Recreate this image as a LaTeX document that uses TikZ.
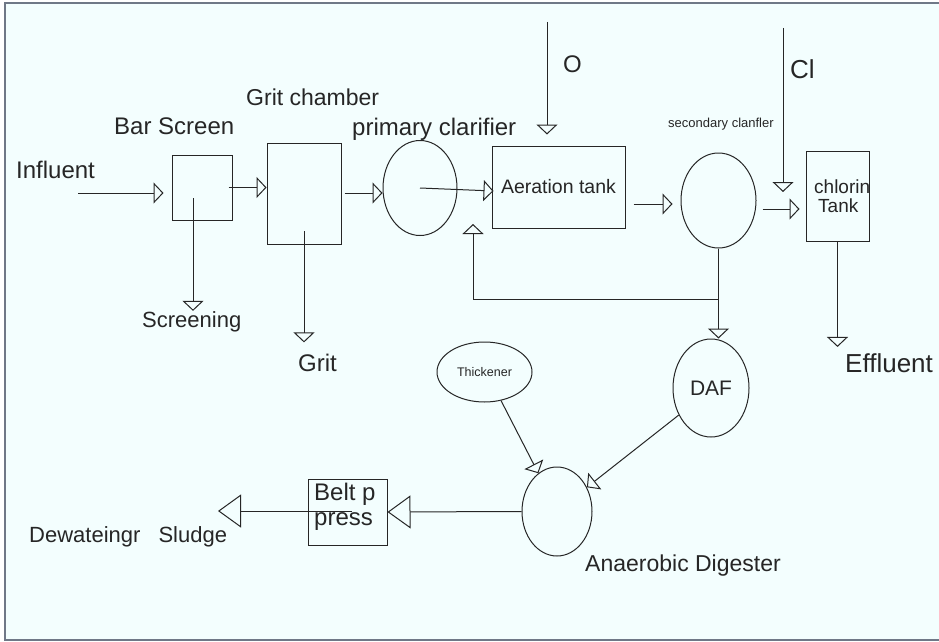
\documentclass[tikz,border=0pt]{standalone}
\usepackage{fontspec}
\setmainfont{Liberation Sans}
\usetikzlibrary{arrows.meta,positioning,shapes.geometric,calc}
\definecolor{plantline}{HTML}{262626}
\definecolor{plantbg}{HTML}{F3FEFE}
\definecolor{plantframe}{HTML}{6F7887}
\newcommand{\plantfont}[1]{\fontsize{#1}{#1}\selectfont}

\begin{document}
\begin{tikzpicture}[x=1pt, y=-1pt,
  unit/.style={draw=plantline, line width=1pt, inner sep=0pt, text=plantline},
  tank/.style={unit, rectangle},
  basin/.style={unit, ellipse},
  flow/.style={draw=plantline, line width=1pt, -{Triangle[open, length=10pt, width=21pt]}},
  bigflow/.style={draw=plantline, line width=1pt, -{Triangle[open, length=23pt, width=33pt]}},
  lbl/.style={anchor=base west, inner sep=0pt, text=plantline, font=\plantfont{24}}]
  \useasboundingbox (0,0) rectangle (939,642);

  % Sheet and frame
  \fill[white] (0,0) rectangle (939,642);
  \fill[plantbg] (5,3) rectangle (939,640);
  \draw[plantframe, line width=2pt] (939,3) -- (5,3) -- (5,640) -- (939,640);

  % Units
  \node[tank, minimum width=60pt, minimum height=65pt] (bar) at (202,187.5) {};
  \node[tank, minimum width=74pt, minimum height=101pt] (grit) at (304,193.5) {};
  \node[basin, minimum width=74pt, minimum height=95pt] (prim) at (420,188) {};
  \node[tank, minimum width=133pt, minimum height=82pt, font=\plantfont{19.5}] (aer) at (558.5,187) {Aeration tank};
  \node[basin, minimum width=75pt, minimum height=95pt] (sec) at (718.5,200.5) {};
  \node[tank, minimum width=63pt, minimum height=90pt] (chl) at (837.5,196) {};
  \node[basin, minimum width=76pt, minimum height=98pt, font=\plantfont{21}] (daf) at (711,388) {DAF};
  \node[basin, minimum width=95pt, minimum height=60pt, font=\plantfont{12.5}] (thk) at (484.5,372) {Thickener};
  \node[basin, minimum width=70pt, minimum height=89pt] (dig) at (557,511.5) {};
  \node[tank, minimum width=79pt, minimum height=66pt] (belt) at (347.5,512) {};

  % Labels
  \node[lbl] (influent) at (16,178) {Influent};
  \node[lbl] (barlbl) at (114,134) {Bar Screen};
  \node[lbl, font=\plantfont{23}] (gritlbl) at (246,105) {Grit chamber};
  \node[lbl] (primlbl) at (352,135) {primary clarifier};
  \node[lbl] (olbl) at (563,72) {O};
  \node[lbl, font=\plantfont{26}] (cllbl) at (790,78) {Cl};
  \node[lbl, font=\plantfont{13}] (seclbl) at (668,127) {secondary clanfler};
  \node[lbl, font=\plantfont{19}] (chlorin) at (814,193) {chlorin};
  \node[lbl, font=\plantfont{19}] (chltank) at (818,212) {Tank};
  \node[lbl, font=\plantfont{22}] (scr) at (142,327) {Screening};
  \node[lbl] (gritout) at (298,371) {Grit};
  \node[lbl, font=\plantfont{26}] (eff) at (845,372) {Effluent};
  \node[lbl, font=\plantfont{23}] (diglbl) at (585,571) {Anaerobic Digester};
  \node[lbl, font=\plantfont{22}] (dwlbl) at (29,542) {Dewateingr\hspace{12pt} Sludge};
  \node[lbl] (beltp) at (314,500) {Belt p};
  \node[lbl] (beltpress) at (314,525) {press};

  % Liquid line
  \coordinate (inS) at (78,193);
  \draw[flow, shorten >=8pt] (inS) -- (inS -| bar.west);
  \draw[flow] ($(bar.east)+(-4,0)$) -- (bar.east -| grit.west);
  \coordinate (scrS) at (193,198);
  \draw[flow] (scrS) -- (scrS |- scr.north);
  \draw[flow, shorten >=11pt] ($(grit.center)+(0,37.5)$) -- (grit.center |- gritout.north);
  \coordinate (gritR) at ($(grit.east)+(3,-0.5)$);
  \draw[flow] (gritR) -- (gritR -| prim.west);
  \draw[flow] (prim.center) -- ($(aer.west)+(2,4)$);
  \coordinate (oS) at (547,22);
  \draw[flow, shorten >=11pt] (oS) -- (oS |- aer.north);
  \draw[flow] ($(aer.east)+(8,17)$) -- ($(sec.west)+(-8,3.5)$);
  \coordinate (clS) at (783,28);
  \draw[flow, shorten >=8.5pt] (clS) -- (clS |- sec.center);
  \draw[flow] ($(sec.east)+(6,8.5)$) -- ($(chl.west)+(-6,13)$);
  \draw[flow, shorten >=6pt] (chl.south) -- (chl.south |- eff.north);

  % Return sludge
  \coordinate (retE) at (473,224);
  \draw[flow] (sec.south) -- ++(0,51) -| (retE);
  \draw[flow] (sec.south) -- (sec.south |- daf.north);

  % Solids line
  \draw[flow] (thk.-60) -- (dig.116);
  \draw[flow] (daf.220) -- (dig.39);
  \draw[bigflow] (dig.west) -- (belt.east);
  \coordinate (dwE) at (218,511);
  \draw[bigflow] ($(belt.center)+(4.5,-1)$) -- (dwE);
\end{tikzpicture}
\end{document}
